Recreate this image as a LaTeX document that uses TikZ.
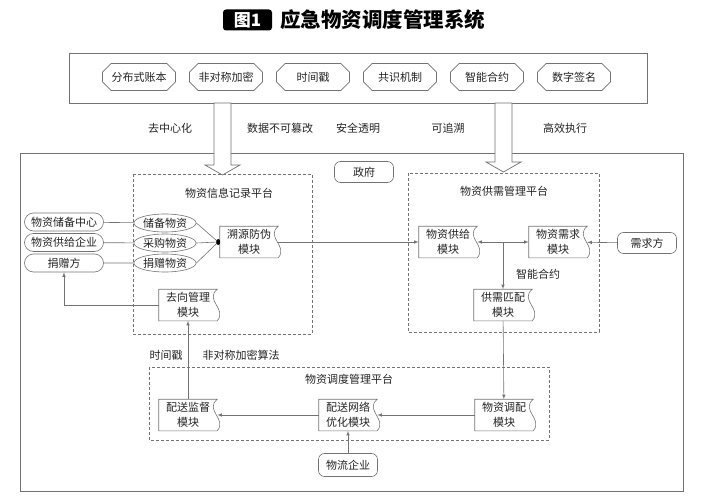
\documentclass[tikz,border=0pt]{standalone}
\usepackage{fontspec}
\setmainfont{Noto Sans CJK SC}
\usetikzlibrary{shapes.misc}
\usetikzlibrary{shapes.geometric}
\usetikzlibrary{calc}
\definecolor{linegray}{RGB}{115,115,115}
\definecolor{txtgray}{RGB}{35,35,35}

\tikzset{
	every node/.style={font=\fontsize{11}{14.5}\selectfont, text=txtgray},
	tech/.style={chamfered rectangle, chamfered rectangle xsep=5pt, draw=linegray, minimum width=73pt, minimum height=27pt, inner sep=0pt},
	source/.style={rounded rectangle, draw=linegray, minimum width=79pt, minimum height=18pt, inner sep=0pt},
	goods/.style={ellipse, draw=linegray, minimum width=60pt, minimum height=18pt, inner sep=0pt},
	party/.style={rectangle, rounded corners=6pt, draw=linegray, minimum width=59pt, minimum height=21pt, inner sep=0pt},
	modtext/.style={minimum width=58pt, minimum height=31pt, inner sep=1pt, align=center},
	platform/.style={draw=linegray, dash pattern=on 3pt off 2pt},
	link/.style={draw=linegray, ->, >=latex},
	plain/.style={draw=linegray},
	bigarrow/.style={draw=linegray, fill=white, line width=0.7pt},
}

\newcommand{\module}[4] % name, x, y, text
{
	% text of the module
	\node[modtext] (#1) at (#2,#3) {#4};
	% outline, wavy right side
	\draw[linegray] (#1.north west) -- (#1.north east) .. controls +(-13,11) and +(10,-12) .. (#1.south east) -- (#1.south west) -- cycle;
}
\newcommand{\feedarrow}[4] % x, top, shoulder, tip
{
	\draw[bigarrow] (#1-8.5,#2) -- (#1+8.5,#2) -- (#1+8.5,#3) -- (#1+17.5,#3) -- (#1,#4) -- (#1-17.5,#3) -- (#1-8.5,#3) -- cycle;
}

\begin{document}
\begin{tikzpicture}[x=1pt, y=-1pt, line width=0.6pt]
	\useasboundingbox (0,0) rectangle (702,500);
	% title
	\node[fill=black, text=white, rounded corners=3pt, minimum width=49pt, minimum height=21pt, inner sep=0pt, font=\fontsize{17}{17}\selectfont\bfseries] (fig) at (247.5,20) {图1};
	\node[font=\fontsize{20.5}{21}\selectfont\bfseries, text=black] (title) at (382.5,20) {应急物资调度管理系统};

	% blockchain techniques
	\draw[linegray] (69,53) rectangle (647,103);
	\node[tech] (t1) at (139,77) {分布式账本};
	\node[tech] (t2) at (226,77) {非对称加密};
	\node[tech] (t3) at (313,77) {时间戳};
	\node[tech] (t4) at (400,77) {共识机制};
	\node[tech] (t5) at (487,77) {智能合约};
	\node[tech] (t6) at (574,77) {数字签名};

	% features
	\node (f1) at (170,128) {去中心化};
	\node (f2) at (280,128) {数据不可篡改};
	\node (f3) at (358,128) {安全透明};
	\node (f4) at (448,128) {可追溯};
	\node (f5) at (565,128) {高效执行};

	% system frame
	\draw[linegray, line width=0.9pt] (20,153) rectangle (683,491);
	\node[party] (gov) at (364,172) {政府};

	% platforms
	\draw[platform] (133,174) rectangle (312,334);
	\node (recp) at (229,193) {物资信息记录平台};
	\draw[platform] (408,173) rectangle (599,332);
	\node (supp) at (504,191) {物资供需管理平台};
	\draw[platform] (149,367) rectangle (549,440);
	\node (disp) at (349,379) {物资调度管理平台};

	% big arrows into the system
	\feedarrow{222.5}{103}{165}{175};
	\feedarrow{503.5}{103}{162}{172};

	% suppliers of goods
	\node[source] (store) at (64,222) {物资储备中心};
	\node[source] (firm) at (64,242.5) {物资供给企业};
	\node[source] (donor) at (64,263) {捐赠方};
	\node[goods] (sgoods) at (165,223) {储备物资};
	\node[goods] (bgoods) at (165,243) {采购物资};
	\node[goods] (dgoods) at (165,263) {捐赠物资};
	\draw[plain] (store) -- (sgoods);
	\draw[plain] (firm) -- (bgoods);
	\draw[plain] (donor) -- (dgoods);

	% modules
	\module{trace}{249}{242}{溯源防伪\\模块}
	\module{dest}{188}{305}{去向管理\\模块}
	\module{supply}{448}{242}{物资供给\\模块}
	\module{demand}{558}{242}{物资需求\\模块}
	\module{match}{503}{305}{供需匹配\\模块}
	\module{alloc}{504}{415}{物资调配\\模块}
	\module{optim}{348}{415}{配送网络\\优化模块}
	\module{superv}{188}{415}{配送监督\\模块}
	\node[party] (need) at (647,243) {需求方};
	\node[party, minimum height=23pt] (logis) at (348,465) {物流企业};

	% goods into the tracing module
	\coordinate (dot) at ($(trace.west)+(-1.5,0)$);
	\draw[plain] (sgoods.east) -- (dot);
	\draw[plain] (bgoods.east) -- (dot);
	\draw[plain] (dgoods.east) -- (dot);
	\fill[black] (dot) ellipse (2pt and 3pt);

	% flows
	\draw[link] (trace) -- (supply);
	\coordinate (jn) at ($(supply.east)!0.5!(demand.west)$);
	\draw[link] (jn) -- (supply.east);
	\draw[link] (jn) -- (demand.west);
	\draw[link] (jn) -- (jn |- match.north);
	\node (sc) at (538,274) {智能合约};
	\draw[link] (need) -- (demand);
	\draw[link] (match) -- (alloc);
	\draw[link] (alloc) -- (optim);
	\draw[link] (optim) -- (superv);
	\draw[link] (logis) -- (optim);
	\draw[link] (superv) -- (dest);
	\draw[link] (dest.west) -| (donor.south);
	\node (ts) at (166,355) {时间戳};
	\node (enc) at (241,355) {非对称加密算法};
\end{tikzpicture}
\end{document}
